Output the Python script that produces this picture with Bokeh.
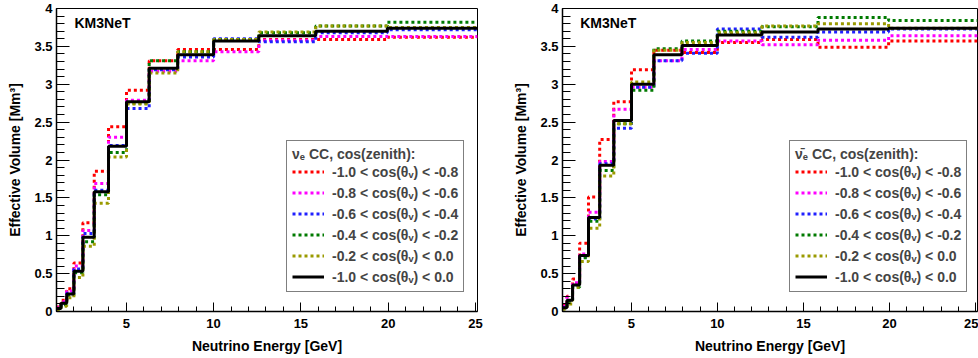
from bokeh.plotting import figure
from bokeh.layouts import row
from bokeh.models import Legend, LegendItem, Label, Range1d, SingleIntervalTicker, PrintfTickFormatter
from bokeh.embed import file_html
from bokeh.resources import INLINE

FONT = "Liberation Sans"

# bin edges [GeV]
edges = [1.0, 1.259, 1.585, 1.995, 2.512, 3.162, 3.981, 5.012, 6.310, 7.943,
         10.0, 12.589, 15.849, 19.953, 25.119]

labels = ["-1.0 < cos(θᵥ) < -0.8", "-0.8 < cos(θᵥ) < -0.6", "-0.6 < cos(θᵥ) < -0.4",
          "-0.4 < cos(θᵥ) < -0.2", "-0.2 < cos(θᵥ) < 0.0", "-1.0 < cos(θᵥ) < 0.0"]
colors = ["#ff0000", "#ff00ff", "#2020ff", "#007a00", "#9a9a00", "#000000"]

# nu_e CC effective volume [Mm^3]
nue_m10_m08 = [0.06, 0.15, 0.30, 0.64, 1.17, 1.85, 2.44, 2.92, 3.31, 3.46, 3.46, 3.59, 3.59, 3.62]
nue_m08_m06 = [0.05, 0.13, 0.27, 0.60, 1.07, 1.69, 2.30, 2.79, 3.17, 3.31, 3.43, 3.58, 3.63, 3.63]
nue_m06_m04 = [0.04, 0.11, 0.24, 0.56, 1.03, 1.60, 2.19, 2.68, 3.19, 3.36, 3.60, 3.56, 3.68, 3.72]
nue_m04_m02 = [0.03, 0.09, 0.21, 0.51, 0.92, 1.54, 2.10, 2.75, 3.31, 3.43, 3.59, 3.68, 3.77, 3.82]
nue_m02_00 = [0.02, 0.07, 0.18, 0.45, 0.86, 1.43, 2.04, 2.74, 3.15, 3.43, 3.59, 3.69, 3.77, 3.75]
nue_all = [0.04, 0.11, 0.23, 0.53, 0.98, 1.58, 2.18, 2.77, 3.21, 3.39, 3.57, 3.64, 3.70, 3.74]

# anti-nu_e CC effective volume [Mm^3]
anue_m10_m08 = [0.08, 0.20, 0.43, 0.90, 1.51, 2.27, 2.77, 3.19, 3.45, 3.42, 3.55, 3.59, 3.49, 3.57]
anue_m08_m06 = [0.07, 0.19, 0.38, 0.76, 1.31, 1.98, 2.67, 2.96, 3.31, 3.46, 3.57, 3.52, 3.58, 3.64]
anue_m06_m04 = [0.05, 0.14, 0.34, 0.72, 1.22, 1.95, 2.42, 2.96, 3.31, 3.41, 3.73, 3.62, 3.69, 3.73]
anue_m04_m02 = [0.04, 0.13, 0.32, 0.71, 1.19, 1.86, 2.48, 2.92, 3.47, 3.57, 3.70, 3.76, 3.88, 3.84]
anue_m02_00 = [0.03, 0.10, 0.32, 0.66, 1.10, 1.79, 2.48, 3.03, 3.45, 3.55, 3.68, 3.77, 3.80, 3.74]
anue_all = [0.05, 0.15, 0.35, 0.74, 1.24, 1.93, 2.52, 3.00, 3.39, 3.51, 3.65, 3.69, 3.73, 3.74]


def make(series, title, width, bl, br, legx):
    p = figure(width=width, height=358, x_range=Range1d(1.0, 25.119), y_range=Range1d(0, 4),
               output_backend="svg", toolbar_location=None,
               min_border_left=bl, min_border_right=br, min_border_top=8, min_border_bottom=47)
    p.xgrid.visible = False
    p.ygrid.visible = False
    p.outline_line_color = "black"
    p.outline_line_width = 1
    p.background_fill_color = "white"
    p.border_fill_color = "white"

    p.xaxis.ticker = SingleIntervalTicker(interval=5, num_minor_ticks=5)
    p.yaxis.ticker = SingleIntervalTicker(interval=0.5, num_minor_ticks=5)
    p.yaxis.formatter = PrintfTickFormatter(format="%g")
    for ax in (p.xaxis[0], p.yaxis[0]):
        ax.axis_line_color = "black"
        ax.axis_line_width = 1.5
        ax.major_tick_out = 0
        ax.minor_tick_out = 0
        ax.major_tick_line_width = 1
        ax.minor_tick_line_width = 1
        ax.major_label_text_font = FONT
        ax.major_label_text_font_style = "bold"
        ax.major_label_text_font_size = "13px"
        ax.major_label_text_color = "black"
        ax.axis_label_text_font = FONT
        ax.axis_label_text_font_style = "bold"
        ax.axis_label_text_font_size = "14px"
        ax.axis_label_text_color = "black"
    p.xaxis.major_tick_in = 9
    p.xaxis.minor_tick_in = 5
    p.yaxis.major_tick_in = 13
    p.yaxis.minor_tick_in = 8
    p.xaxis.major_label_standoff = 7
    p.yaxis.major_label_standoff = 4
    p.xaxis.axis_label_standoff = 7
    p.yaxis.axis_label_standoff = 8
    p.xaxis.axis_label = "Neutrino Energy [GeV]"
    p.yaxis.axis_label = "Effective Volume [Mm³]"

    items = []
    for vals, lab, col in zip(series, labels, colors):
        ys = list(vals) + [vals[-1]]
        if col == "#000000":
            r = p.step(x=edges, y=ys, mode="after", line_color=col, line_width=3)
        else:
            r = p.step(x=edges, y=ys, mode="after", line_color=col, line_width=3,
                       line_dash="3 3")
        items.append(LegendItem(label=lab, renderers=[r]))

    leg = Legend(items=items, location=(legx, 19), title=title,
                 title_text_font=FONT, title_text_font_style="bold", title_text_font_size="14px",
                 title_standoff=0,
                 label_text_font=FONT, label_text_font_style="bold", label_text_font_size="14px",
                 glyph_width=32, glyph_height=19, label_height=19, label_standoff=8,
                 spacing=2, padding=5, margin=0,
                 border_line_color="black", border_line_width=1.5,
                 background_fill_color="white", background_fill_alpha=1.0)
    p.add_layout(leg)

    p.add_layout(Label(x=2.03, y=3.91, text="KM3NeT", text_font=FONT, text_font_style="bold",
                       text_font_size="14px", text_baseline="top", text_color="black"))
    return p


p1 = make([nue_m10_m08, nue_m08_m06, nue_m06_m04, nue_m04_m02, nue_m02_00, nue_all],
          "νₑ CC, cos(zenith):", 510, 56, 33, 230)
p2 = make([anue_m10_m08, anue_m08_m06, anue_m06_m04, anue_m04_m02, anue_m02_00, anue_all],
          "ν̄ₑ CC, cos(zenith):", 468, 48, 1, 227)

layout = row(p1, p2, spacing=0)
open("out.html", "w").write(file_html(layout, INLINE))
